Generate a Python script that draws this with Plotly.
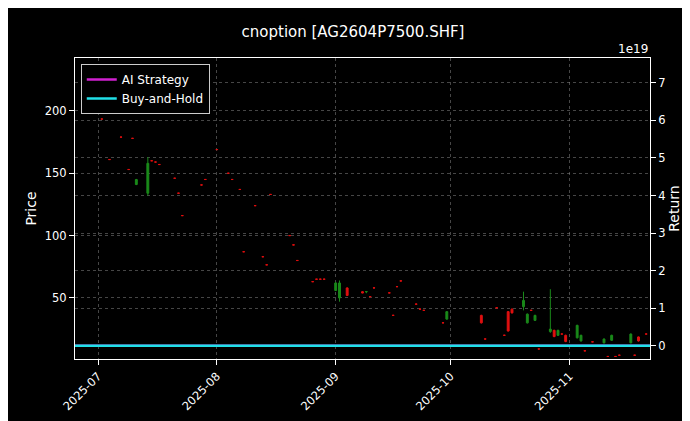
import plotly.graph_objects as go

dates = ["2025-07-02","2025-07-04","2025-07-07","2025-07-09","2025-07-10","2025-07-11","2025-07-14","2025-07-15","2025-07-16","2025-07-17",
         "2025-07-21","2025-07-22","2025-07-23","2025-07-28","2025-07-29","2025-08-01","2025-08-04","2025-08-05","2025-08-07","2025-08-08",
         "2025-08-11","2025-08-13","2025-08-14","2025-08-15","2025-08-20","2025-08-21","2025-08-22","2025-08-26","2025-08-27","2025-08-28",
         "2025-08-29","2025-09-01","2025-09-02","2025-09-04","2025-09-08","2025-09-09","2025-09-10","2025-09-11","2025-09-15","2025-09-16",
         "2025-09-17","2025-09-18","2025-09-22","2025-09-23","2025-09-24","2025-09-29","2025-09-30","2025-10-09","2025-10-10","2025-10-13",
         "2025-10-15","2025-10-16","2025-10-17","2025-10-20","2025-10-21","2025-10-22","2025-10-23","2025-10-24","2025-10-27","2025-10-28",
         "2025-10-29","2025-10-30","2025-10-31","2025-11-03","2025-11-04","2025-11-05","2025-11-06","2025-11-07","2025-11-10","2025-11-11",
         "2025-11-12","2025-11-13","2025-11-14","2025-11-17","2025-11-18","2025-11-19","2025-11-21"]
open_ = [193.6,161.1,179.1,153.1,178.1,141,134,160.1,159.1,157.1,
         146.1,134.1,116.1,140.7,145.1,169.1,150.1,145.1,137.1,87.1,
         124.1,83.1,76.6,133.1,100.1,92.6,80.1,63.1,65.1,65.1,
         65.1,56,50,58,55,54.9,51.1,58.1,54.1,36.1,
         59.1,63.7,45.1,41.1,40.1,30.1,33,36,17.1,42.1,
         20.1,39,41,43,30,40.1,32,9.1,23,24,
         20,21.1,20,18,15.5,7.6,11.6,14.8,14,3.1,
         16,3.1,4.1,14,4.1,18.7,21.1]
close = [193.5,161,179,153,178,145,158,160,159,157,
         146,134,116,140.6,145,169,150,145,137,87,
         124,83,76.5,133,100,92.5,80,63,65,65,
         65,62,62,52,54,55.1,51,58,54,36,
         59,63.6,45,41,40,30,39,30,17,42,
         20,23.5,38,48,37,40,36,9,25,19,
         24,21,15,28,20,7.5,11.5,14.7,17,3,
         20,3,4,21,4,15.5,21]
high = [193.7,161.2,179.2,153.2,178.2,145.5,163,160.2,159.2,157.2,
        146.2,134.2,116.2,140.8,145.2,169.2,150.2,145.2,137.2,87.2,
        124.2,83.2,76.7,133.2,100.2,92.7,80.2,63.2,65.2,65.2,
        65.2,62.5,64,58.5,55.3,55.3,51.2,58.2,54.2,36.2,
        59.2,63.8,45.2,41.2,40.2,30.2,39.5,36.5,17.2,42.2,
        20.2,39.5,41.5,55,37.5,40.2,36.5,9.2,57,24.5,
        24.5,21.2,20.5,28.5,20.5,7.7,11.7,14.9,17.5,3.2,
        20.5,3.2,4.2,21.5,4.2,19,21.2]
low = [193.4,160.9,178.9,152.9,177.9,140.5,132,159.9,158.9,156.9,
       145.9,133.9,115.9,140.5,144.9,168.9,149.9,144.9,136.9,86.9,
       123.9,82.9,76.4,132.9,99.9,92.4,79.9,62.9,64.9,64.9,
       64.9,55.5,47,51.5,53.8,53.8,50.9,57.9,53.9,35.9,
       58.9,63.5,44.9,40.9,39.9,29.9,32.5,29.5,16.9,41.9,
       19.9,23,37.5,40,29.5,39.9,31.5,8.9,22,18.5,
       19.5,20.9,14.5,17.5,15,7.4,11.4,14.6,13.5,2.9,
       15.5,2.9,3.9,13.5,3.9,15,20.9]

ret_dates = ["2025-06-25", "2025-11-22"]
ai_return = [0.0, 0.0]
bh_return = [0.0, 0.0]
ret_ticks = [0, 1, 2, 3, 4, 5, 6, 7]

fig = go.Figure()
fig.add_trace(go.Candlestick(x=dates, open=open_, high=high, low=low, close=close,
    increasing=dict(line=dict(color="#1a8a1a", width=1), fillcolor="#1a8a1a"),
    decreasing=dict(line=dict(color="#e01010", width=1), fillcolor="#e01010"),
    showlegend=False, whiskerwidth=0))
fig.add_trace(go.Scatter(x=ret_dates, y=[v*1e19 for v in ai_return], yaxis="y2", mode="lines",
    line=dict(color="#d020d0", width=2.5), name="AI Strategy"))
fig.add_trace(go.Scatter(x=ret_dates, y=[v*1e19 for v in bh_return], yaxis="y2", mode="lines",
    line=dict(color="#20e0e8", width=2.5), name="Buy-and-Hold"))

grid = "rgba(140,140,140,0.5)"
fig.update_layout(
    width=690, height=421, paper_bgcolor="black", plot_bgcolor="black",
    font=dict(family="DejaVu Sans", color="white", size=11.5),
    margin=dict(l=67, r=48, t=50, b=70, autoexpand=False),
    title=dict(text="cnoption [AG2604P7500.SHF]", x=0.5, xanchor="center", y=0.955, font=dict(size=15)),
    xaxis=dict(type="date", range=["2025-06-25", "2025-11-22"], rangeslider=dict(visible=False), automargin=False,
               tickvals=["2025-07-01","2025-08-01","2025-09-01","2025-10-01","2025-11-01"],
               ticktext=["2025-07","2025-08","2025-09","2025-10","2025-11"], tickangle=-45,
               showgrid=True, gridcolor=grid, griddash="dot", showline=True, linecolor="white", mirror=True,
               ticks="outside", tickcolor="white", zeroline=False),
    yaxis=dict(title=dict(text="Price", standoff=4), range=[1, 242.5], tickvals=[50, 100, 150, 200], automargin=False,
               showgrid=True, gridcolor=grid, griddash="dot", showline=True, linecolor="white",
               ticks="outside", tickcolor="white", zeroline=False),
    yaxis2=dict(title=dict(text="Return", standoff=4), overlaying="y", side="right", range=[-0.35e19, 7.66e19],
                automargin=False,
                tickvals=[t*1e19 for t in ret_ticks], ticktext=[str(t) for t in ret_ticks],
                showgrid=True, gridcolor=grid, griddash="dot", showline=True, linecolor="white",
                ticks="outside", tickcolor="white", zeroline=False),
    legend=dict(x=0.01, y=0.98, xanchor="left", yanchor="top", bgcolor="black",
                bordercolor="#cccccc", borderwidth=1, font=dict(size=12)),
    annotations=[dict(text="1e19", xref="paper", yref="paper", x=1.0, y=1.0, xanchor="right", yanchor="bottom",
                      showarrow=False, font=dict(size=12, color="white"))],
)
fig.write_html("out.html")
